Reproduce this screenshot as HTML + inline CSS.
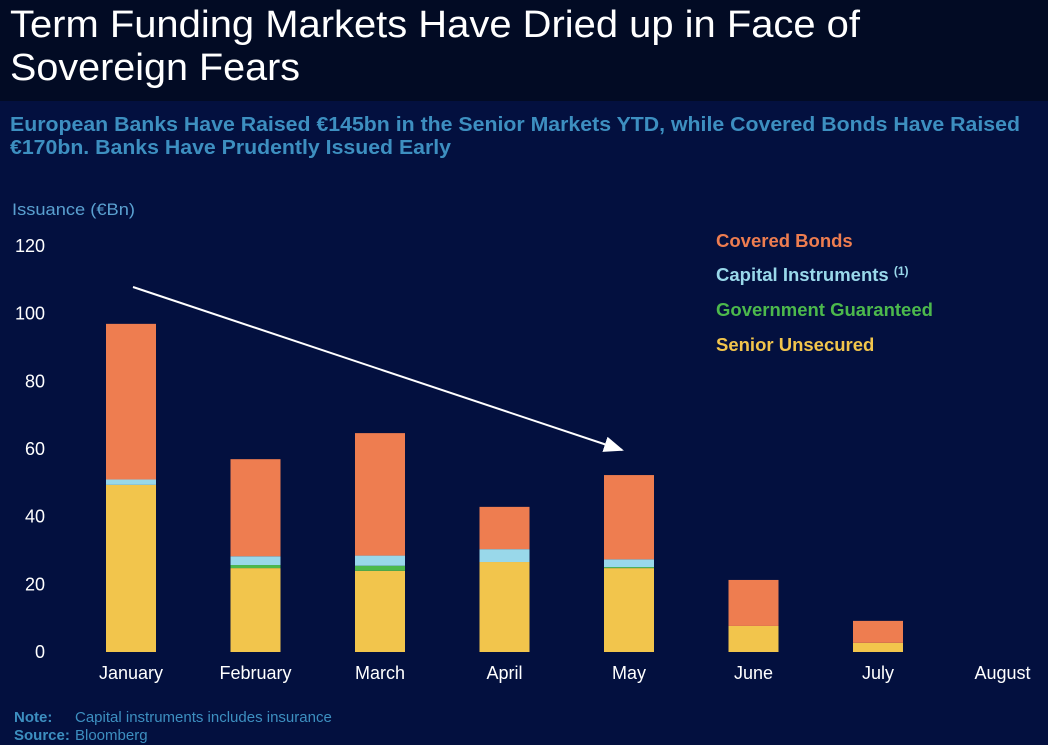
<!DOCTYPE html>
<html><head><meta charset="utf-8"><style>
html,body{margin:0;padding:0;background:#03103f;}
svg{display:block;font-family:"Liberation Sans",Arial,sans-serif;}
</style></head><body>
<svg id="chart" width="1048" height="745" viewBox="0 0 1048 745">
<rect x="0" y="0" width="1048" height="745" fill="#03103f"/>
<rect x="0" y="0" width="1048" height="101" fill="#020b24"/>
<text x="10" y="37" fill="#fff" font-size="38" textLength="850" lengthAdjust="spacingAndGlyphs">Term Funding Markets Have Dried up in Face of</text>
<text x="10" y="80" fill="#fff" font-size="38" textLength="290" lengthAdjust="spacingAndGlyphs">Sovereign Fears</text>
<text x="10" y="131" fill="#3d8fc0" font-size="20" font-weight="bold" textLength="1010" lengthAdjust="spacingAndGlyphs">European Banks Have Raised €145bn in the Senior Markets YTD, while Covered Bonds Have Raised</text>
<text x="10" y="154" fill="#3d8fc0" font-size="20" font-weight="bold" textLength="441" lengthAdjust="spacingAndGlyphs">€170bn. Banks Have Prudently Issued Early</text>
<text x="12" y="215" fill="#5aa0d0" font-size="17" textLength="123" lengthAdjust="spacingAndGlyphs">Issuance (€Bn)</text>
<g id="yticks"></g>
<g id="bars"></g>
<g id="xlabels"></g>
<defs><marker id="ah" markerWidth="10" markerHeight="8" refX="9" refY="4" orient="auto"><path d="M0,0 L10,4 L0,8 z" fill="#fff"/></marker></defs>
<line x1="133" y1="287" x2="622" y2="450" stroke="#fff" stroke-width="2" marker-end="url(#ah)"/>
<g font-size="18.5" font-weight="bold">
<text x="716" y="247" fill="#ee7d50">Covered Bonds</text>
<text x="716" y="281" fill="#99d8ea">Capital Instruments <tspan font-size="12" dy="-6">(1)</tspan></text>
<text x="716" y="316" fill="#4cb94c">Government Guaranteed</text>
<text x="716" y="351" fill="#f2c54c">Senior Unsecured</text>
</g>
<text x="14" y="722" fill="#3d8fc0" font-size="15" font-weight="bold">Note:</text>
<text x="75" y="722" fill="#3d8fc0" font-size="15">Capital instruments includes insurance</text>
<text x="14" y="740" fill="#3d8fc0" font-size="15" font-weight="bold">Source:</text>
<text x="75" y="740" fill="#3d8fc0" font-size="15">Bloomberg</text>
</svg>
<script>
const categories = ["January","February","March","April","May","June","July","August"];
const senior = [49.4, 24.8, 24, 26.6, 24.8, 7.7, 2.7, 0];
const government = [0, 0.9, 1.5, 0, 0.3, 0, 0, 0];
const capital = [1.6, 2.6, 3, 3.8, 2.3, 0, 0, 0];
const covered = [46, 28.7, 36.2, 12.5, 24.9, 13.6, 6.5, 0];
const yTicks = [0,20,40,60,80,100,120];
const NS = "http://www.w3.org/2000/svg";
function y(v){ return 652 - v * 3.383; }
function xc(i){ return 131 + i * 124.5; }
const bw = 50;
const yt = document.getElementById('yticks');
yTicks.forEach(t=>{
  const tx = document.createElementNS(NS,'text');
  
  
  tx.setAttribute('x', 45); tx.setAttribute('y', y(t)+6);
  tx.setAttribute('text-anchor','end'); tx.setAttribute('fill','#fff'); tx.setAttribute('font-size','18');
  tx.textContent = t; yt.appendChild(tx);
});
const bars = document.getElementById('bars');
const series = [[senior,'#f2c54c','senior'],[government,'#4cb94c','government'],[capital,'#99d8ea','capital'],[covered,'#ee7d50','covered']];
categories.forEach((c,i)=>{
  let base = 0;
  series.forEach(s=>{
    const v = s[0][i];
    if(v>0){
      const r = document.createElementNS(NS,'rect');
      
      
      r.setAttribute('x', xc(i)-bw/2); r.setAttribute('width', bw);
      r.setAttribute('y', y(base+v)); r.setAttribute('height', y(base)-y(base+v));
      r.setAttribute('fill', s[1]);
      bars.appendChild(r);
    }
    base += v;
  });
  const tx = document.createElementNS(NS,'text');
  
  
  tx.setAttribute('x', xc(i)); tx.setAttribute('y', 679);
  tx.setAttribute('text-anchor','middle'); tx.setAttribute('fill','#fff'); tx.setAttribute('font-size','18');
  tx.textContent = c; document.getElementById('xlabels').appendChild(tx);
});
</script>
</body></html>
